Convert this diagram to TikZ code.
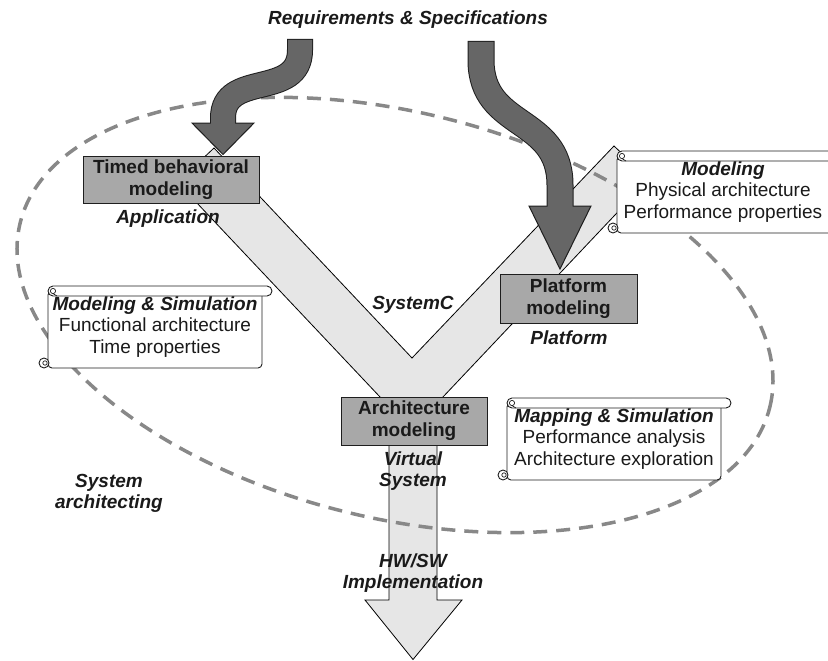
\documentclass[tikz,border=0pt]{standalone}
\usepackage{fontspec}
\setmainfont{Liberation Sans}
\definecolor{ylight}{HTML}{E6E6E6}
\definecolor{boxgray}{HTML}{A8A8A8}
\definecolor{arrowdark}{HTML}{666666}
\definecolor{dashgray}{HTML}{888888}
\definecolor{txt}{HTML}{1A1A1A}
\definecolor{edge}{HTML}{1E1E1E}
\newcommand\scrollshape[4]{%
  % #1 = body left, #2 = body right, #3 = roll top, #4 = body bottom
  \filldraw[fill=white, draw=edge, line width=0.9pt, rounded corners=4pt]
    (#1,#3+5) -- (#1,#4) -- (#2,#4) -- (#2,#3+5) -- cycle;
  \filldraw[fill=white, draw=edge, line width=0.9pt, rounded corners=5pt]
    (#1,#3) rectangle (#2+10,#3+10);
  \draw[edge, line width=0.7pt] (#1+5,#3+5) circle[radius=2.6pt];
  \draw[edge, line width=0.7pt] (#1+5,#3+7.6) -- (#1+9,#3+10);
  \filldraw[fill=white, draw=edge, line width=0.9pt] (#1-4,#4-5) circle[radius=5pt];
  \draw[edge, line width=0.7pt] (#1-3,#4-5) circle[radius=2.2pt];
}
\tikzset{
  modelbox/.style={draw=edge, line width=0.9pt, fill=boxgray, inner sep=0pt,
    align=center, text=txt, font=\fontsize{19}{22}\selectfont\bfseries},
  lbl/.style={inner sep=0pt, text=txt, font=\fontsize{19}{21}\selectfont\bfseries\itshape},
  scrolltext/.style={inner sep=0pt, align=center, text=txt, font=\fontsize{19}{21.5}\selectfont},
}
\begin{document}
\begin{tikzpicture}[x=1pt,y=-1pt]
\useasboundingbox (0,0) rectangle (828,661);
\clip (0,0) rectangle (828,661);

% Y-shaped flow
\filldraw[fill=ylight, draw=black, line width=0.8pt, line join=miter]
  (389,600) -- (365,600) -- (413,659.5) -- (462,600) -- (437,600) -- (437,403.3)
  -- (649,179) -- (614,146) -- (412,358) -- (214,148) -- (177.5,182.4)
  -- (389,406.5) -- cycle;

% system architecting boundary
\draw[dashgray, line width=3.5pt, dash pattern=on 14pt off 9pt,
  rotate around={-13.8:(395,315)}] (395,315) ellipse [x radius=386pt, y radius=203pt];

% requirement arrows
\draw[edge, line width=26pt] (300,39) -- (300,50) .. controls (300,100) and (223,70) .. (223,118) -- (223,123);
\filldraw[fill=arrowdark, draw=edge, line width=1pt, line join=miter] (192,123) -- (254,123) -- (223,154.5) -- cycle;
\draw[arrowdark, line width=24pt] (300,40) -- (300,50) .. controls (300,100) and (223,70) .. (223,118) -- (223,128);

\draw[edge, line width=27pt] (481,41) -- (481,60) .. controls (481,130) and (560,115) .. (560,185) -- (560,206);
\filldraw[fill=arrowdark, draw=edge, line width=1pt, line join=miter] (529,206) -- (591,206) -- (560,269) -- cycle;
\draw[arrowdark, line width=25pt] (481,42) -- (481,60) .. controls (481,130) and (560,115) .. (560,185) -- (560,212);

% modeling boxes
\node[modelbox, minimum width=176pt, minimum height=47pt] (timed) at (171,179.5) {Timed behavioral\\modeling};
\node[modelbox, minimum width=137pt, minimum height=49pt] (platform) at (568.5,298.5) {Platform\\modeling};
\node[modelbox, minimum width=146pt, minimum height=48pt] (arch) at (414,421) {Architecture\\modeling};

% scrolls
\scrollshape{48}{262}{286}{368}
\scrollshape{507}{721}{398}{480}
\scrollshape{617}{832}{151}{233}

\node[scrolltext] (ms) at (155,327) {{\bfseries\itshape Modeling \& Simulation}\\Functional architecture\\Time properties};
\node[scrolltext] (map) at (614,439) {{\bfseries\itshape Mapping \& Simulation}\\Performance analysis\\Architecture exploration};
\node[scrolltext] (mod) at (723,192) {{\bfseries\itshape Modeling}\\Physical architecture\\Performance properties};

% labels
\node[lbl] (req) at (408,20) {Requirements \& Specifications};
\node[lbl] (app) at (168,219) {Application};
\node[lbl] (sysc) at (413,305) {SystemC};
\node[lbl] (plat) at (569,338) {Platform};
\node[lbl, align=center] (virt) at (413,471) {Virtual\\System};
\node[lbl, align=center] (hwsw) at (413,573) {HW/SW\\Implementation};
\node[lbl, align=center] (sysarch) at (109,493) {System\\architecting};
\end{tikzpicture}
\end{document}
